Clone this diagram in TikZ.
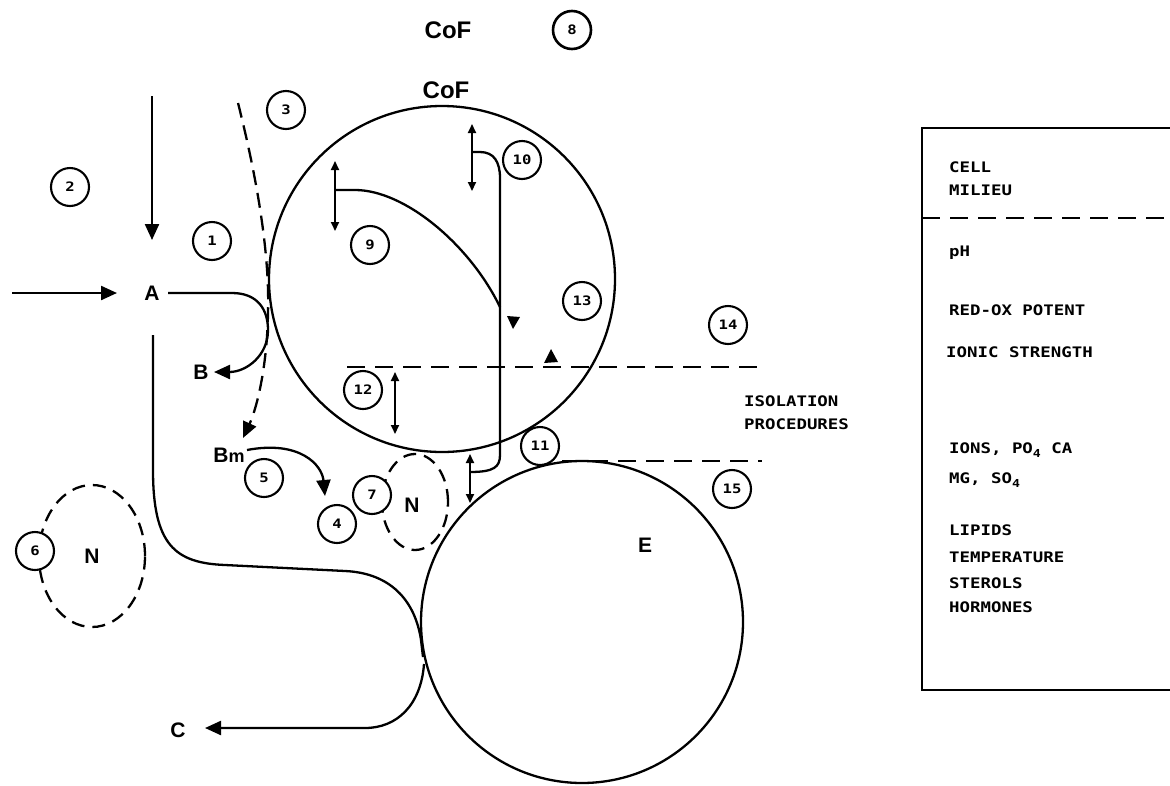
\documentclass[tikz,border=0pt]{standalone}
\usepackage{fontspec}
\setmainfont{Liberation Sans}
\newfontfamily\boxfont[FakeStretch=1.2]{DejaVu Sans Mono}
\usetikzlibrary{arrows.meta,shapes.geometric}
\begin{document}
\begin{tikzpicture}[x=1pt,y=-1pt,line width=2.3pt,
  numc/.style={circle,draw,line width=2.1pt,fill=white,minimum size=38pt,inner sep=0pt,
    font=\boxfont\bfseries\fontsize{13}{13}\selectfont},
  bigc/.style={circle,draw,line width=2.3pt,inner sep=0pt},
  dell/.style={ellipse,draw,line width=2.3pt,dash pattern=on 13pt off 8pt,inner sep=0pt,
    font=\bfseries\fontsize{21}{21}\selectfont},
  lbl/.style={font=\bfseries\fontsize{21}{21}\selectfont,inner sep=1pt},
  cof/.style={font=\bfseries\fontsize{24}{24}\selectfont,inner sep=1pt},
  btxt/.style={anchor=west,inner sep=0pt,font=\boxfont\bfseries\fontsize{14.5}{14.5}\selectfont},
  dline/.style={line width=2.3pt,dash pattern=on 18pt off 10pt},
  bigarrow/.style={-{Triangle[length=16pt,width=14pt]}},
  dbl/.style={{Triangle[length=9pt,width=8pt]}-{Triangle[length=9pt,width=8pt]},line width=2pt}]
\useasboundingbox (0,0) rectangle (1170,785);

% dashed nucleus ellipses
\node[dell,minimum width=106pt,minimum height=142pt] (N1) at (92,556) {N};
\node[dell,minimum width=66pt,minimum height=96pt] (N2) at (415,502) {};
\node[lbl] (N2l) at (412,505) {N};

% main circles
\node[bigc,minimum size=346pt] (cell) at (442,279) {};
\node[bigc,minimum size=322pt] (E) at (582,622) {};
\node[lbl] (El) at (645,545) {E};

% labels
\node[cof] (cof1) at (448,30) {CoF};
\node[cof] (cof2) at (446,90) {CoF};
\node[lbl] (A) at (152,293) {A};
\node[lbl] (B) at (201,372) {B};
\node[lbl] (Bm) at (229,455) {B\fontsize{18}{18}\selectfont m};
\node[lbl] (C) at (178,730) {C};

% incoming arrows to A
\coordinate (top) at (152,96);
\coordinate (topend) at (152,240);
\coordinate (left) at (12,293);
\coordinate (leftend) at (117,293);
\draw[bigarrow] (top) -- (topend);
\draw[bigarrow] (left) -- (leftend);

% A -> B
\coordinate (Aout) at (168,293);
\coordinate (Btip) at (214,372);
\draw[bigarrow] (Aout) -- (232,293) .. controls (258,293) and (268,310) .. (268,330)
  .. controls (268,356) and (246,372) .. (Btip);

% A down path to E, then to C
\coordinate (Adown) at (153,335);
\coordinate (Etouch1) at (423,657);
\coordinate (Etouch2) at (424,664);
\coordinate (Ctip) at (205,728);
\draw (Adown) -- (153,470) .. controls (153,545) and (175,563) .. (225,565) -- (345,571)
  .. controls (390,573) and (415,600) .. (421,640) -- (Etouch1);
\draw[bigarrow] (Etouch2) .. controls (421,705) and (397,728) .. (365,728) -- (Ctip);

% dashed curve (3)
\coordinate (d3a) at (238,103);
\coordinate (d3b) at (243,438);
\draw[bigarrow,dash pattern=on 15pt off 8pt] (d3a) .. controls (255,170) and (270,250) .. (268,313)
  .. controls (267,370) and (256,410) .. (d3b);

% Bm -> N
\coordinate (Bmout) at (247,450);
\coordinate (Bmtip) at (325,496);
\draw[bigarrow] (Bmout) .. controls (300,440) and (322,465) .. (Bmtip);

% inside the cell
\coordinate (a9t) at (335,161);
\coordinate (a9b) at (335,231);
\draw[dbl] (a9t) -- (a9b);
\coordinate (a9m) at (335,190);
\coordinate (a9e) at (500,307);
\draw (a9m) -- (355,190) .. controls (405,190) and (470,245) .. (a9e);

\coordinate (a10t) at (472,124);
\coordinate (a10b) at (472,191);
\draw[dbl] (a10t) -- (a10b);
\coordinate (a10m) at (472,152);
\coordinate (a11m) at (470,472);
\draw (a10m) -- (480,152) .. controls (494,152) and (500,162) .. (500,178) -- (500,455)
  .. controls (500,467) and (494,472) .. (a11m);
\coordinate (a11t) at (470,454);
\coordinate (a11b) at (470,503);
\draw[dbl] (a11t) -- (a11b);

\coordinate (a12t) at (395,372);
\coordinate (a12b) at (395,434);
\draw[dbl] (a12t) -- (a12b);

\fill (507,316) -- (520,317) -- (513,329) -- cycle;
\fill (544,363) -- (558,362) -- (551,349) -- cycle;

% isolation lines
\coordinate (l14a) at (347,367);
\coordinate (l14b) at (762,367);
\draw[dline] (l14a) -- (l14b);
\coordinate (l15a) at (562,461);
\coordinate (l15b) at (762,461);
\draw[dline] (l15a) -- (l15b);
\node[btxt] (iso1) at (743,401) {ISOLATION};
\node[btxt] (iso2) at (743,424) {PROCEDURES};

% numbered circles
\node[numc] (n1) at (212,241) {1};
\node[numc] (n2) at (70,187) {2};
\node[numc] (n3) at (286,110) {3};
\node[numc] (n4) at (337,524) {4};
\node[numc] (n5) at (264,478) {5};
\node[numc] (n6) at (35,551) {6};
\node[numc] (n7) at (372,495) {7};
\node[numc,line width=2.6pt] (n8) at (572,30) {8};
\node[numc] (n9) at (370,245) {9};
\node[numc] (n10) at (522,160) {10};
\node[numc] (n11) at (540,446) {11};
\node[numc] (n12) at (363,390) {12};
\node[numc] (n13) at (582,301) {13};
\node[numc] (n14) at (728,325) {14};
\node[numc] (n15) at (732,489) {15};

% cell milieu box
\draw[line width=2.6pt] (1175,128) -- (922,128) -- (922,690) -- (1175,690);
\draw[dline] (922,218) -- (1175,218);
\node[btxt] (t1) at (948,167) {CELL};
\node[btxt] (t2) at (948,190) {MILIEU};
\node[btxt] (t3) at (948,253) {pH};
\node[btxt] (t4) at (948,310) {RED-OX POTENT};
\node[btxt] (t5) at (945,352) {IONIC STRENGTH};
\node[btxt] (t6) at (948,450) {IONS, PO\raisebox{-4pt}{\fontsize{11}{11}\selectfont 4} CA};
\node[btxt] (t7) at (948,480) {MG, SO\raisebox{-4pt}{\fontsize{11}{11}\selectfont 4}};
\node[btxt] (t8) at (948,530) {LIPIDS};
\node[btxt] (t9) at (948,557) {TEMPERATURE};
\node[btxt] (t10) at (948,583) {STEROLS};
\node[btxt] (t11) at (948,607) {HORMONES};
\end{tikzpicture}
\end{document}
